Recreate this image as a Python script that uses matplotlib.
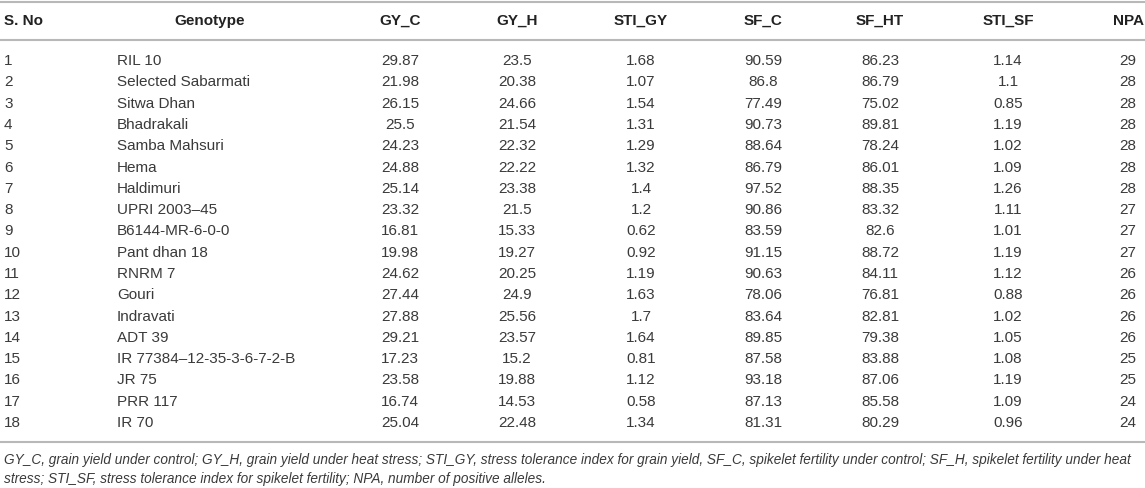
import matplotlib
matplotlib.use("Agg")
import matplotlib.pyplot as plt

columns = ["S. No", "Genotype", "GY_C", "GY_H", "STI_GY", "SF_C", "SF_HT", "STI_SF", "NPA"]
s_no = list(range(1, 19))
genotype = ["RIL 10", "Selected Sabarmati", "Sitwa Dhan", "Bhadrakali", "Samba Mahsuri",
            "Hema", "Haldimuri", "UPRI 2003\u201345", "B6144-MR-6-0-0", "Pant dhan 18",
            "RNRM 7", "Gouri", "Indravati", "ADT 39", "IR 77384\u201312-35-3-6-7-2-B",
            "JR 75", "PRR 117", "IR 70"]
gy_c = ["29.87", "21.98", "26.15", "25.5", "24.23", "24.88", "25.14", "23.32", "16.81",
        "19.98", "24.62", "27.44", "27.88", "29.21", "17.23", "23.58", "16.74", "25.04"]
gy_h = ["23.5", "20.38", "24.66", "21.54", "22.32", "22.22", "23.38", "21.5", "15.33",
        "19.27", "20.25", "24.9", "25.56", "23.57", "15.2", "19.88", "14.53", "22.48"]
sti_gy = ["1.68", "1.07", "1.54", "1.31", "1.29", "1.32", "1.4", "1.2", "0.62",
          "0.92", "1.19", "1.63", "1.7", "1.64", "0.81", "1.12", "0.58", "1.34"]
sf_c = ["90.59", "86.8", "77.49", "90.73", "88.64", "86.79", "97.52", "90.86", "83.59",
        "91.15", "90.63", "78.06", "83.64", "89.85", "87.58", "93.18", "87.13", "81.31"]
sf_ht = ["86.23", "86.79", "75.02", "89.81", "78.24", "86.01", "88.35", "83.32", "82.6",
         "88.72", "84.11", "76.81", "82.81", "79.38", "83.88", "87.06", "85.58", "80.29"]
sti_sf = ["1.14", "1.1", "0.85", "1.19", "1.02", "1.09", "1.26", "1.11", "1.01",
          "1.19", "1.12", "0.88", "1.02", "1.05", "1.08", "1.19", "1.09", "0.96"]
npa = ["29", "28", "28", "28", "28", "28", "28", "27", "27",
       "27", "26", "26", "26", "26", "25", "25", "24", "24"]
footnote = [
    "GY_C, grain yield under control; GY_H, grain yield under heat stress; STI_GY, stress tolerance index for grain yield, SF_C, spikelet fertility under control; SF_H, spikelet fertility under heat",
    "stress; STI_SF, stress tolerance index for spikelet fertility; NPA, number of positive alleles.",
]

W, H = 1145, 488
fig = plt.figure(figsize=(W / 100, H / 100), dpi=100)
ax = fig.add_axes([0, 0, 1, 1])
ax.set_xlim(0, W)
ax.set_ylim(H, 0)
ax.axis("off")

txt = "#3a3a3a"
line_c = "#b8b8b8"
fam = ["Liberation Sans", "DejaVu Sans"]
fs = 11

# column geometry
col_x = [4, 210, 400, 517, 641, 763, 880, 1008, 1128]
col_ha = ["left", "center", "center", "center", "center", "center", "center", "center", "center"]
geno_x = 117

y_top, y_head, y_hline = 2, 21, 40
y_row0, dy = 61, 21.3
y_bottom = 442

ax.axhline(y_top, color=line_c, lw=1.5)
ax.axhline(y_hline, color=line_c, lw=1.5)
ax.axhline(y_bottom, color=line_c, lw=1.5)

for x, ha, name in zip(col_x, col_ha, columns):
    ax.text(x, y_head, name, ha=ha, va="center", fontsize=fs, fontweight="bold",
            color="#222222", family=fam)

data_cols = [gy_c, gy_h, sti_gy, sf_c, sf_ht, sti_sf, npa]
for i in range(len(s_no)):
    y = y_row0 + i * dy
    ax.text(col_x[0], y, str(s_no[i]), ha="left", va="center", fontsize=fs, color=txt, family=fam)
    ax.text(geno_x, y, genotype[i], ha="left", va="center", fontsize=fs, color=txt, family=fam)
    for j, col in enumerate(data_cols):
        ax.text(col_x[j + 2], y, col[i], ha="center", va="center", fontsize=fs,
                color=txt, family=fam)

for k, line in enumerate(footnote):
    ax.text(4, 460 + k * 19, line, ha="left", va="center", fontsize=9.8,
            style="italic", color=txt, family=fam)

fig.savefig("out.png", dpi=100)
